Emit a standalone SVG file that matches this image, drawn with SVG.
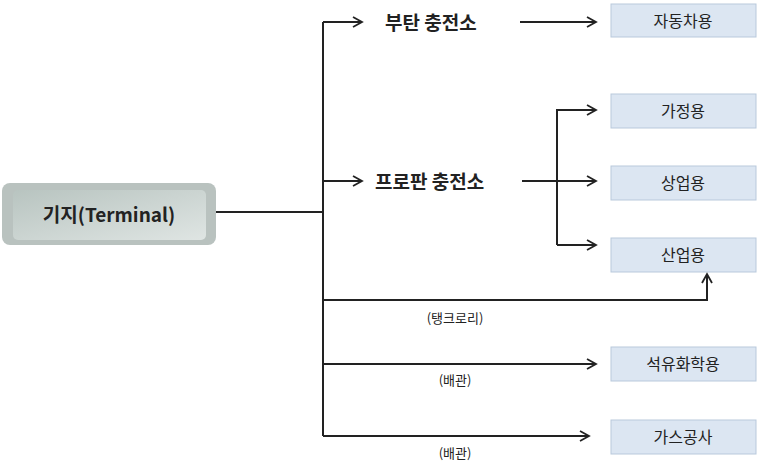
<svg xmlns="http://www.w3.org/2000/svg" width="758" height="471" viewBox="0 0 758 471">
<style>
text{font-family:"Noto Sans CJK KR","Noto Sans",sans-serif;fill:#222}
.box{fill:#dce6f2;stroke:#b9c9dc;stroke-width:1}
.bt{font-size:16px;text-anchor:middle}
.hd{font-size:19px;font-weight:bold}
.lb{font-size:13px;text-anchor:middle}
.c{fill:none;stroke:#222;stroke-width:2}
</style>
<defs>
<marker id="a" markerWidth="12" markerHeight="12" refX="10" refY="6" orient="auto" markerUnits="userSpaceOnUse">
<path d="M1,1 L10,6 L1,11" fill="none" stroke="#222" stroke-width="1.8"/>
</marker>
<linearGradient id="g" x1="0" y1="0" x2="1" y2="1">
<stop offset="0" stop-color="#b8c4c0"/><stop offset="1" stop-color="#dfe5e3"/>
</linearGradient>
</defs>
<g id="terminal">
<rect x="2" y="183" width="214" height="62" rx="8" fill="#b9c2bf"/>
<rect x="13" y="190" width="193" height="50" rx="5" fill="url(#g)"/>
<text x="109" y="222" class="hd" text-anchor="middle">기지(Terminal)</text>
</g>
<g id="butane"><text x="385" y="30" class="hd">부탄 충전소</text></g>
<g id="propane"><text x="375" y="189" class="hd">프로판 충전소</text></g>
<g id="car"><rect class="box" x="611" y="4" width="145" height="33"/><text class="bt" x="683" y="27">자동차용</text></g>
<g id="home"><rect class="box" x="611" y="94" width="145" height="34"/><text class="bt" x="683" y="117">가정용</text></g>
<g id="commercial"><rect class="box" x="611" y="166" width="145" height="34"/><text class="bt" x="683" y="189">상업용</text></g>
<g id="industrial"><rect class="box" x="611" y="238" width="145" height="34"/><text class="bt" x="683" y="261">산업용</text></g>
<g id="petro"><rect class="box" x="611" y="347" width="145" height="34"/><text class="bt" x="683" y="370">석유화학용</text></g>
<g id="gas"><rect class="box" x="611" y="420" width="145" height="34"/><text class="bt" x="683" y="443">가스공사</text></g>
<g id="connectors">
<path class="c" d="M216,212 H323 M323,22 V436"/>
<path class="c" d="M323,22 H362" marker-end="url(#a)"/>
<path class="c" d="M520,22 H596" marker-end="url(#a)"/>
<path class="c" d="M323,181 H362" marker-end="url(#a)"/>
<path class="c" d="M522,181 H596" marker-end="url(#a)"/>
<path class="c" d="M557,245 V110 H596" marker-end="url(#a)"/>
<path class="c" d="M557,245 H596" marker-end="url(#a)"/>
<path class="c" d="M323,300 H707 V274" marker-end="url(#a)"/>
<path class="c" d="M323,364 H596" marker-end="url(#a)"/>
<path class="c" d="M323,436 H589" marker-end="url(#a)"/>
<text class="lb" x="455" y="323">(탱크로리)</text>
<text class="lb" x="455" y="385">(배관)</text>
<text class="lb" x="455" y="458">(배관)</text>
</g>
</svg>
